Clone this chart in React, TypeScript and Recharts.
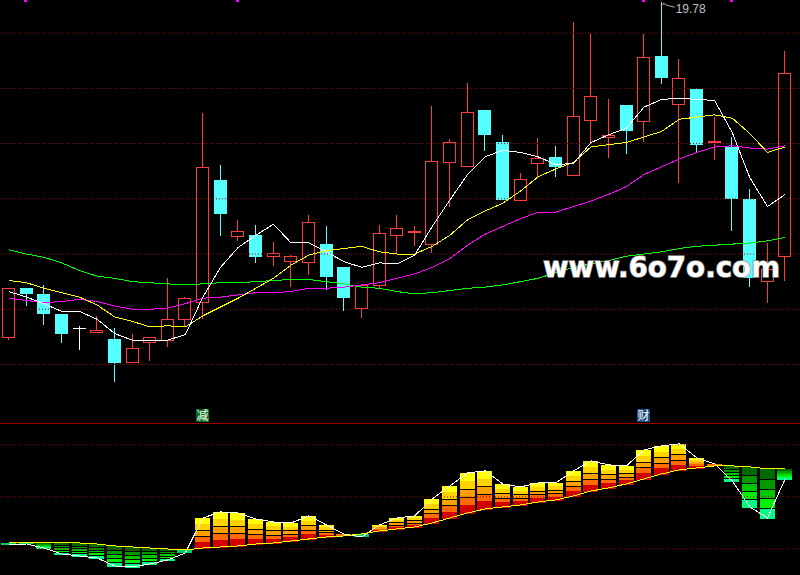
import React from 'react'
import { ComposedChart, Bar, Line, XAxis, YAxis, ReferenceLine, ReferenceDot } from 'recharts'

// daily candles
const opens = [16.75, 17.19, 17.14, 16.96, 16.83, 16.79, 16.73, 16.52, 16.70, 16.72, 16.91, 17.07, 18.17, 17.66, 17.67, 17.48, 17.44, 17.43, 17.59, 17.38, 17.01, 17.22, 17.67, 17.70, 17.59, 18.33, 18.30, 18.80, 18.51, 17.99, 18.32, 18.38, 18.22, 18.71, 18.56, 18.85, 18.70, 19.29, 18.86, 18.99, 18.51, 18.47, 18.00, 17.26, 17.48]
const highs = [17.19, 17.19, 17.22, 16.96, 16.85, 16.94, 16.83, 16.78, 16.75, 17.28, 17.11, 18.78, 18.31, 17.81, 17.76, 17.61, 17.49, 17.85, 17.75, 17.38, 17.22, 17.76, 17.85, 17.75, 18.84, 18.54, 19.05, 18.80, 18.58, 18.23, 18.55, 18.48, 19.60, 19.49, 18.90, 18.85, 19.49, 19.78, 19.27, 19.00, 18.74, 18.56, 18.09, 17.60, 19.34]
const lows = [16.72, 17.03, 16.86, 16.69, 16.63, 16.79, 16.34, 16.51, 16.53, 16.66, 16.84, 16.91, 17.66, 17.62, 17.42, 17.39, 17.20, 17.31, 17.17, 16.98, 16.92, 17.19, 17.50, 17.57, 17.51, 17.93, 18.30, 18.43, 17.99, 17.99, 18.20, 18.20, 18.22, 18.51, 18.37, 18.41, 18.51, 19.04, 18.14, 18.42, 18.35, 17.71, 17.20, 17.06, 17.26]
const closes = [17.19, 17.14, 16.96, 16.78, 16.83, 16.81, 16.51, 16.65, 16.75, 16.91, 17.10, 18.29, 17.86, 17.71, 17.47, 17.51, 17.48, 17.79, 17.29, 17.10, 17.22, 17.69, 17.74, 17.71, 18.34, 18.51, 18.79, 18.58, 17.99, 18.18, 18.37, 18.29, 18.75, 18.93, 18.58, 18.61, 19.28, 19.09, 19.09, 18.49, 18.52, 18.00, 17.28, 17.36, 19.14]

// moving averages
const ma5 = [17.16, 17.11, 17.05, 16.98, 16.98, 16.91, 16.78, 16.72, 16.72, 16.72, 16.77, 17.11, 17.38, 17.56, 17.67, 17.77, 17.60, 17.60, 17.52, 17.43, 17.38, 17.42, 17.41, 17.49, 17.75, 17.99, 18.22, 18.38, 18.44, 18.42, 18.38, 18.31, 18.32, 18.51, 18.58, 18.64, 18.83, 18.90, 18.91, 18.90, 18.89, 18.60, 18.19, 17.93, 18.04]
const ma10 = [17.26, 17.24, 17.19, 17.15, 17.11, 17.04, 16.93, 16.89, 16.84, 16.85, 16.84, 16.94, 17.02, 17.10, 17.19, 17.28, 17.40, 17.49, 17.53, 17.55, 17.57, 17.52, 17.50, 17.50, 17.57, 17.67, 17.81, 17.89, 17.96, 18.07, 18.20, 18.27, 18.33, 18.47, 18.49, 18.51, 18.56, 18.61, 18.72, 18.74, 18.76, 18.73, 18.59, 18.42, 18.47]
const ma20 = [17.10, 17.08, 17.06, 17.07, 17.09, 17.07, 17.03, 17.00, 17.00, 17.01, 17.05, 17.10, 17.11, 17.13, 17.15, 17.15, 17.16, 17.19, 17.19, 17.20, 17.22, 17.24, 17.28, 17.32, 17.38, 17.46, 17.58, 17.68, 17.75, 17.82, 17.88, 17.88, 17.93, 17.98, 18.04, 18.11, 18.22, 18.29, 18.36, 18.42, 18.47, 18.48, 18.46, 18.45, 18.48]
const ma60 = [17.54, 17.50, 17.47, 17.42, 17.35, 17.30, 17.28, 17.25, 17.24, 17.23, 17.22, 17.23, 17.24, 17.24, 17.25, 17.26, 17.27, 17.27, 17.25, 17.23, 17.20, 17.19, 17.16, 17.14, 17.15, 17.17, 17.19, 17.20, 17.22, 17.25, 17.28, 17.33, 17.38, 17.41, 17.44, 17.48, 17.50, 17.52, 17.55, 17.57, 17.58, 17.59, 17.60, 17.62, 17.65]

// lower indicator: yellow base line and white end line
const baseLine = [1.15, 1.15, 1.15, 1.15, 1.15, 0.96, 0.58, 0.38, 0.19, 0, -0.19, 0.19, 0.38, 0.58, 0.96, 1.15, 1.54, 1.92, 2.31, 2.5, 2.88, 3.46, 3.85, 4.23, 5.0, 5.96, 6.92, 7.69, 8.08, 8.46, 9.04, 9.42, 10.19, 11.15, 11.73, 12.5, 13.46, 14.42, 15.19, 15.58, 15.96, 15.96, 15.77, 15.38, 15.38]
const endLine = [0.77, 0.96, 0.19, -0.96, -1.35, -1.73, -3.27, -3.46, -2.88, -2.12, -0.77, 5.96, 7.12, 6.92, 5.77, 5.19, 5.0, 6.35, 4.62, 2.88, 2.31, 4.62, 5.96, 6.35, 9.62, 12.12, 14.62, 15.0, 12.5, 11.92, 12.69, 12.69, 15.0, 16.92, 16.15, 15.96, 19.04, 19.81, 20.19, 17.5, 16.35, 13.08, 8.08, 5.96, 13.46]

const days = opens.map((_, i) => `d${i + 1}`)
const topMarks = [1, 13, 36, 41]
const priceGrid = [19.5, 19, 18.5, 18, 17.5, 17, 16.5]
const lowerGrid = [20, 10, 0]

const RED = '#ff3c3c'
const CYAN = '#54ffff'
const GRID = '#a00000'

const mainData = days.map((day, i) => ({
  day,
  open: opens[i],
  high: highs[i],
  low: lows[i],
  close: closes[i],
  range: [lows[i], highs[i]],
  ma5: ma5[i],
  ma10: ma10[i],
  ma20: ma20[i],
  ma60: ma60[i],
}))

const lowerData = days.map((day, i) => ({
  day,
  base: baseLine[i],
  end: endLine[i],
  span: [Math.min(baseLine[i], endLine[i]), Math.max(baseLine[i], endLine[i])],
}))

const Candle = (props: any) => {
  const { x, y, width, height, payload } = props
  const top = Math.min(y, y + height)
  const bot = Math.max(y, y + height)
  const { open, close, high, low } = payload
  const span = high - low || 1
  const toY = (p: number) => top + ((high - p) / span) * (bot - top)
  const L = Math.round(x)
  const w = Math.round(width)
  const cx = L + Math.floor(w / 2) + 0.5
  const yo = toY(open)
  const yc = toY(close)
  const bTop = Math.round(Math.min(yo, yc))
  const bBot = Math.round(Math.max(yo, yc))
  const hiY = Math.round(top)
  const loY = Math.round(bot)
  if (close > open) {
    return (
      <g stroke={RED} fill="none" shapeRendering="crispEdges">
        {hiY < bTop && <line x1={cx} x2={cx} y1={hiY} y2={bTop} />}
        {bBot < loY && <line x1={cx} x2={cx} y1={bBot} y2={loY} />}
        <rect x={L + 0.5} y={bTop + 0.5} width={w - 1} height={Math.max(bBot - bTop, 1)} />
      </g>
    )
  }
  if (close < open) {
    return (
      <g shapeRendering="crispEdges">
        <line x1={cx} x2={cx} y1={hiY} y2={loY} stroke={CYAN} />
        <rect x={L} y={bTop} width={w} height={Math.max(bBot - bTop, 1)} fill={CYAN} />
      </g>
    )
  }
  return (
    <g stroke="#ffffff" shapeRendering="crispEdges">
      <line x1={cx} x2={cx} y1={hiY} y2={loY} />
      <line x1={L} x2={L + w} y1={bTop + 0.5} y2={bTop + 0.5} />
    </g>
  )
}

const UP_BANDS = ['#ffff00', '#ffd200', '#ffa000', '#ff6a00', '#d40000']
const DOWN_BANDS = ['#006a00', '#009a00', '#00c800', '#00f000', '#00ff80']

const EnergyBar = (props: any) => {
  const { x, y, width, height, payload } = props
  const top = Math.round(Math.min(y, y + height))
  const bot = Math.round(Math.max(y, y + height))
  const L = Math.round(x)
  const w = Math.round(width)
  const up = payload.end >= payload.base
  const bands = up ? UP_BANDS : DOWN_BANDS
  const h = bot - top
  if (h < 4) {
    return <rect x={L} y={top} width={w} height={Math.max(h, 1)} fill={up ? '#ff7000' : '#00d060'} />
  }
  const step = h / bands.length
  const seps = up ? [2, 3] : [1, 2, 3, 4]
  return (
    <g shapeRendering="crispEdges">
      {bands.map((c, i) => (
        <rect key={c} x={L} y={top + i * step} width={w} height={step + 0.5} fill={c} />
      ))}
      {h > 10 &&
        seps.map((s) => (
          <line key={s} x1={L} x2={L + w} y1={Math.round(top + s * step) + 0.5} y2={Math.round(top + s * step) + 0.5} stroke="#000" />
        ))}
    </g>
  )
}

const SignalBox = (label: string, bg: string) => (p: any) => (
  <g>
    <rect x={Math.round(p.cx) - 7} y={Math.round(p.cy) - 14} width={13} height={13} fill={bg} />
    <text x={Math.round(p.cx) - 0.5} y={Math.round(p.cy) - 3} textAnchor="middle" fontSize={12} fill="#ffffff" fontFamily="Noto Sans CJK SC">
      {label}
    </text>
  </g>
)

const hiIdx = highs.indexOf(Math.max(...highs))
const margin = { top: 0, right: 0, bottom: 0, left: 0 }
const xPad = { left: 0, right: 6 }
const lineProps = { dot: false, activeDot: false, isAnimationActive: false, strokeWidth: 1, shapeRendering: 'crispEdges' } as any

export default function App() {
  return (
    <div style={{ position: 'absolute', left: 0, top: 0, width: 800, height: 575, background: '#000', overflow: 'hidden' }}>
      <div style={{ position: 'absolute', left: 0, top: 0 }}>
        <ComposedChart width={800} height={423} data={mainData} margin={margin}>
          <XAxis dataKey="day" hide padding={xPad} />
          <YAxis hide domain={[15.97, 19.8]} allowDataOverflow />
          {priceGrid.map((v) => (
            <ReferenceLine key={v} y={v} stroke={GRID} strokeDasharray="1 2" />
          ))}
          <Line dataKey="ma60" stroke="#00ff00" {...lineProps} />
          <Line dataKey="ma20" stroke="#ff00ff" {...lineProps} />
          <Line dataKey="ma10" stroke="#ffff00" {...lineProps} />
          <Line dataKey="ma5" stroke="#ffffff" {...lineProps} />
          <Bar dataKey="range" barSize={13} shape={Candle} isAnimationActive={false} />
          {topMarks.map((i) => (
            <ReferenceDot
              key={i}
              x={days[i]}
              y={19.8}
              shape={(p: any) => <rect x={Math.round(p.cx) - 2} y={0} width={3} height={2} fill="#ff00ff" />}
            />
          ))}
          <ReferenceDot
            x={days[hiIdx]}
            y={highs[hiIdx]}
            shape={(p: any) => (
              <g>
                <path d={`M${p.cx + 1} ${p.cy + 3} L${p.cx + 2} ${p.cy + 1} L${p.cx + 5} ${p.cy + 3} L${p.cx + 13} ${p.cy + 5}`} stroke="#b0b0b0" fill="none" />
                <text x={p.cx + 14} y={p.cy + 11} fontSize={12} fill="#c0c0c0" fontFamily="Liberation Sans">
                  {highs[hiIdx].toFixed(2)}
                </text>
              </g>
            )}
          />
          <ReferenceDot x={days[11]} y={15.97} shape={SignalBox('减', '#0b6a1e')} />
          <ReferenceDot x={days[36]} y={15.97} shape={SignalBox('财', '#1b4d80')} />
        </ComposedChart>
      </div>
      <div style={{ position: 'absolute', left: 0, top: 423 }}>
        <ComposedChart width={800} height={152} data={lowerData} margin={margin}>
          <XAxis dataKey="day" hide padding={xPad} />
          <YAxis hide domain={[-5, 24.2]} allowDataOverflow />
          <ReferenceLine y={24.1} stroke={GRID} />
          {lowerGrid.map((v) => (
            <ReferenceLine key={v} y={v} stroke={GRID} strokeDasharray="1 2" />
          ))}
          <Bar dataKey="span" barSize={15} shape={EnergyBar} isAnimationActive={false} />
          <Line dataKey="end" stroke="#ffffff" {...lineProps} />
          <Line dataKey="base" stroke="#ffff00" {...lineProps} />
        </ComposedChart>
      </div>
      <svg width={800} height={575} style={{ position: 'absolute', left: 0, top: 0, pointerEvents: 'none' }}>
        <text
          x={543}
          y={277}
          fontFamily="DejaVu Sans"
          fontWeight="bold"
          fontSize={29}
          textLength={237}
          lengthAdjust="spacingAndGlyphs"
          fill="#ffffff"
          stroke="#8a8a8a"
          strokeWidth={1.5}
          paintOrder="stroke"
        >
          www.6o7o.com
        </text>
      </svg>
    </div>
  )
}
